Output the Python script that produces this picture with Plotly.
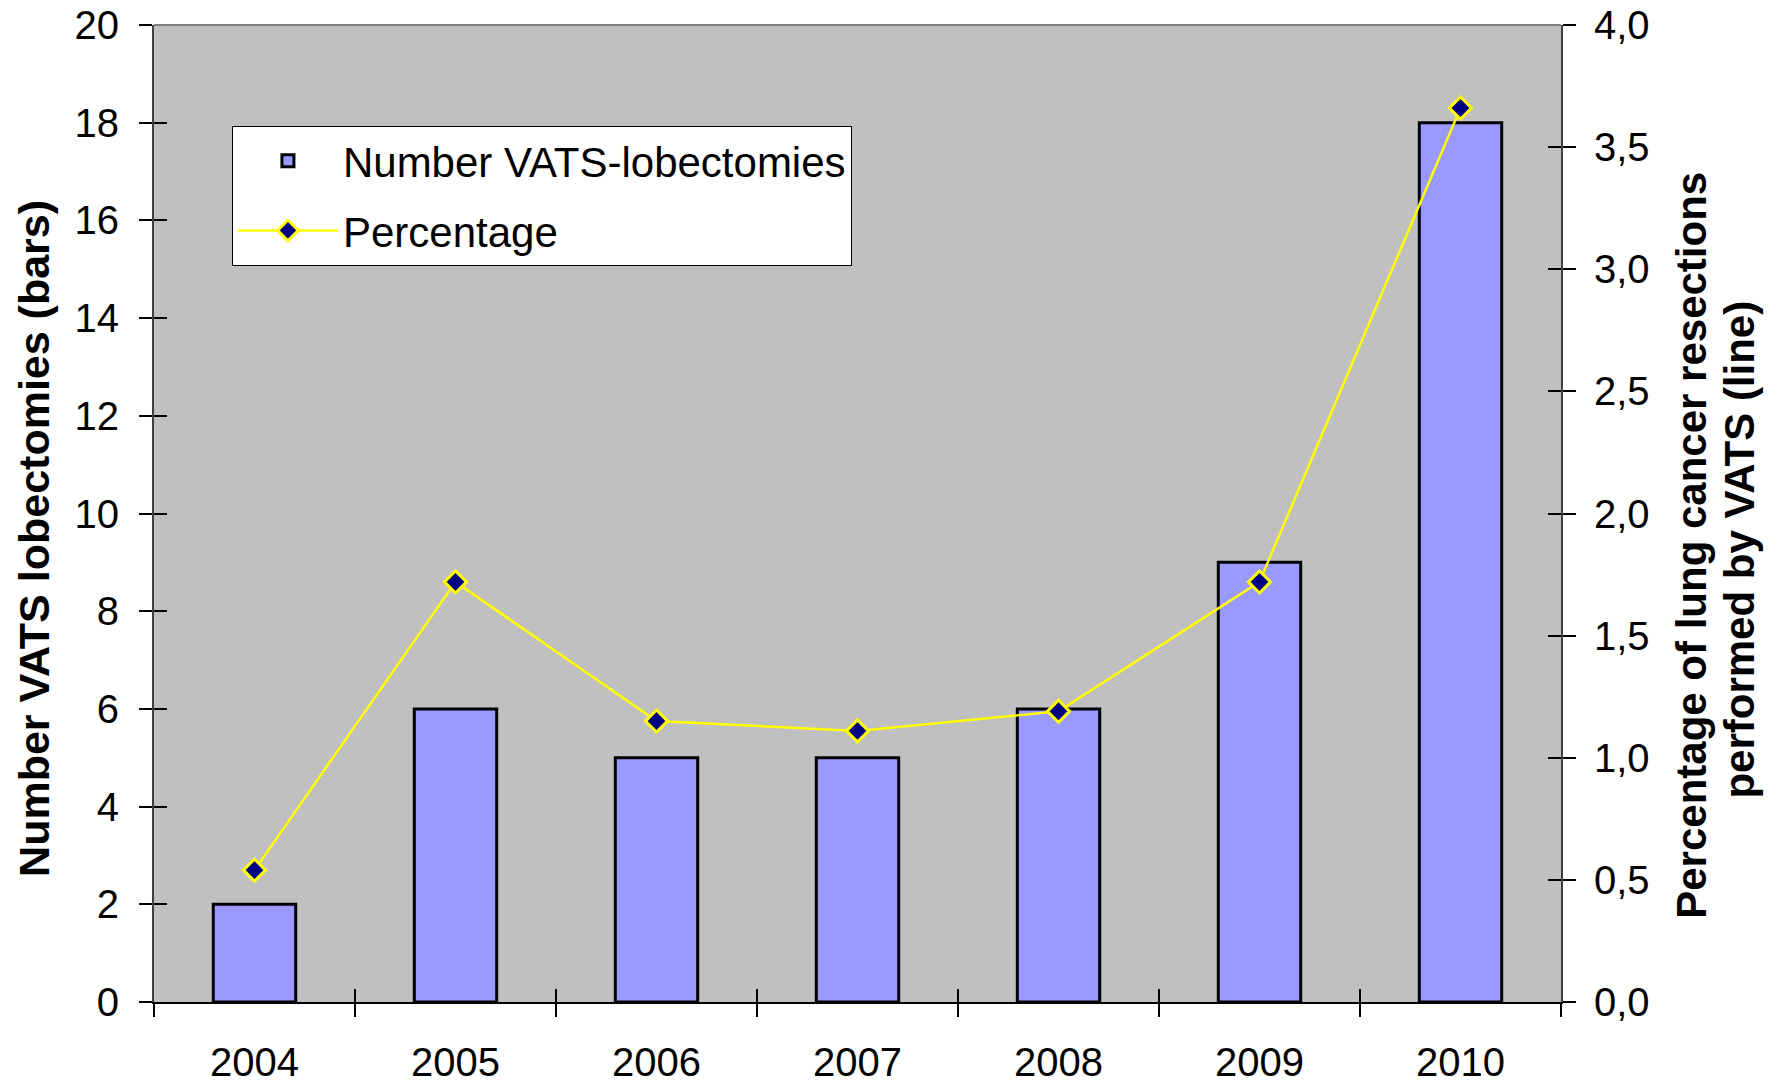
import plotly.graph_objects as go

years = ["2004", "2005", "2006", "2007", "2008", "2009", "2010"]
vats_counts = [2, 6, 5, 5, 6, 9, 18]
vats_percentage = [0.54, 1.72, 1.15, 1.11, 1.19, 1.72, 3.66]

left_tickvals = [0, 2, 4, 6, 8, 10, 12, 14, 16, 18, 20]
right_tickvals = [0.0, 0.5, 1.0, 1.5, 2.0, 2.5, 3.0, 3.5, 4.0]
right_ticktext = ["0,0", "0,5", "1,0", "1,5", "2,0", "2,5", "3,0", "3,5", "4,0"]

left_title = "Number VATS lobectomies (bars)"
right_title_lines = ["Percentage of lung cancer resections", "performed by VATS (line)"]

FONT = "Liberation Sans, Arial, sans-serif"
TICK_SIZE = 40

fig = go.Figure()

fig.add_trace(go.Bar(
    x=years, y=vats_counts, name="Number VATS-lobectomies",
    marker=dict(color="#9999FF", line=dict(color="black", width=3)),
    legendgroup="a",
))
fig.add_trace(go.Scatter(
    x=years, y=vats_percentage, name="Percentage", yaxis="y2",
    mode="lines+markers",
    line=dict(color="#FFFF00", width=2.5),
    marker=dict(symbol="diamond", size=17, color="#000080",
                line=dict(color="#FFFF00", width=3)),
    legendgroup="b",
))
# ghost traces to carry the inside tick marks (crossing ticks)
fig.add_trace(go.Scatter(x=years, y=vats_counts, xaxis="x2", yaxis="y3",
                         mode="markers", marker=dict(opacity=0),
                         showlegend=False, hoverinfo="skip"))
fig.add_trace(go.Scatter(x=years, y=vats_percentage, xaxis="x2", yaxis="y4",
                         mode="markers", marker=dict(opacity=0),
                         showlegend=False, hoverinfo="skip"))

annotations = [
    dict(text="<b>%s</b>" % left_title, xref="paper", yref="paper",
         x=-0.0853, y=0.475, xanchor="center", yanchor="middle",
         textangle=-90, showarrow=False, font=dict(size=43)),
    dict(text="<b>%s</b>" % right_title_lines[0], xref="paper", yref="paper",
         x=1.0931, y=0.468, xanchor="center", yanchor="middle",
         textangle=-90, showarrow=False, font=dict(size=42)),
    dict(text="<b>%s</b>" % right_title_lines[1], xref="paper", yref="paper",
         x=1.1272, y=0.463, xanchor="center", yanchor="middle",
         textangle=-90, showarrow=False, font=dict(size=42)),
]

fig.update_layout(
    width=1769, height=1075,
    margin=dict(l=146, r=216, t=17, b=81, autoexpand=False),
    paper_bgcolor="white",
    plot_bgcolor="#C0C0C0",
    font=dict(family=FONT, size=TICK_SIZE, color="black"),
    bargap=0.59,
    showlegend=True,
    legend=dict(
        x=0.0554, y=0.8966, xanchor="left", yanchor="top",
        bgcolor="white", bordercolor="black", borderwidth=1,
        font=dict(family=FONT, size=42, color="black"),
        traceorder="grouped", tracegroupgap=12, itemwidth=100,
    ),
    xaxis=dict(
        type="category", range=[-0.5, 6.5], automargin=False,
        showline=True, linecolor="black", linewidth=2,
        ticks="outside", ticklen=13, tickwidth=1.5, tickcolor="black",
        tickson="boundaries", showgrid=False, zeroline=False,
        tickfont=dict(size=TICK_SIZE), ticklabelstandoff=24,
        ticklabeloverflow="allow",
    ),
    xaxis2=dict(
        type="category", range=[-0.5, 6.5], overlaying="x", anchor="y3",
        showline=False, ticks="inside", ticklen=13, tickwidth=1.5,
        tickcolor="black", tickson="boundaries", showticklabels=False,
        showgrid=False, zeroline=False, automargin=False,
    ),
    yaxis=dict(
        range=[0, 20], tickvals=left_tickvals, automargin=False,
        showline=True, linecolor="#404040", linewidth=2,
        ticks="outside", ticklen=13, tickwidth=1.5, tickcolor="black",
        showgrid=False, zeroline=False,
        tickfont=dict(size=TICK_SIZE), ticklabelstandoff=12,
        ticklabeloverflow="allow",
    ),
    yaxis3=dict(
        range=[0, 20], tickvals=left_tickvals, overlaying="y", anchor="x2",
        showline=False, ticks="inside", ticklen=13, tickwidth=1.5,
        tickcolor="black", showticklabels=False, showgrid=False,
        zeroline=False, automargin=False,
    ),
    yaxis2=dict(
        range=[0, 4], tickvals=right_tickvals, ticktext=right_ticktext,
        overlaying="y", side="right", anchor="x", automargin=False,
        showline=True, linecolor="#404040", linewidth=2,
        ticks="outside", ticklen=13, tickwidth=1.5, tickcolor="black",
        showgrid=False, zeroline=False,
        tickfont=dict(size=TICK_SIZE), ticklabelstandoff=10,
        ticklabeloverflow="allow",
    ),
    yaxis4=dict(
        range=[0, 4], tickvals=right_tickvals, overlaying="y", side="right",
        anchor="x2", showline=False, ticks="inside", ticklen=13, tickwidth=1.5,
        tickcolor="black", showticklabels=False, showgrid=False,
        zeroline=False, automargin=False,
    ),
    annotations=annotations,
    shapes=[dict(type="line", xref="paper", yref="paper", x0=0, x1=1, y0=1, y1=1,
                 line=dict(color="#808080", width=2), layer="above")],
)

fig.write_html("out.html")
